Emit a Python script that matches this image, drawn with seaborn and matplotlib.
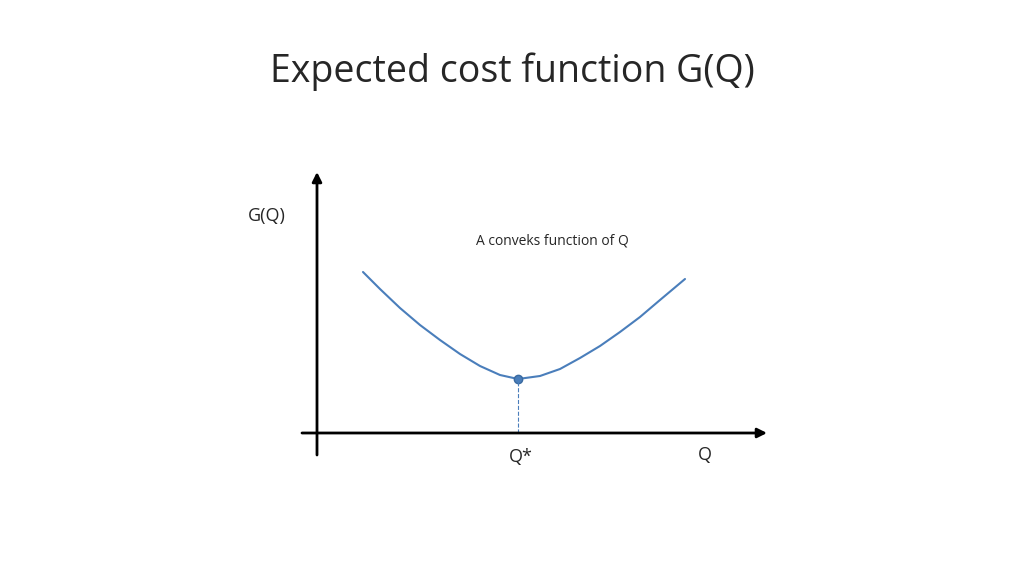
import matplotlib
matplotlib.use("Agg")
import matplotlib.pyplot as plt
import seaborn as sns
import pandas as pd

# curve (pixel offsets from the axis origin)
q_values = [46, 63, 83, 103, 123, 143, 163, 183, 201, 223, 243, 263, 283, 303, 323, 343, 368]
g_values = [161, 144, 125, 108, 93, 79, 67, 58, 54, 57, 64, 75, 87, 101, 116, 133, 154]
q_star = 201
g_star = 54

sns.set_theme(style="white")
plt.rcParams["font.family"] = ["Open Sans", "DejaVu Sans"]

fig = plt.figure(figsize=(10.24, 5.76), dpi=100)
ax = fig.add_axes([0, 0, 1, 1])
ax.set_xlim(-317, 1024 - 317)
ax.set_ylim(433 - 576, 433)
ax.axis("off")

df = pd.DataFrame({"Q": q_values, "G": g_values})
sns.lineplot(data=df, x="Q", y="G", ax=ax, color="#4a7ebb", linewidth=1.5, sort=False)
ax.plot([q_star], [g_star], "o", color="#4a7ebb", markersize=6, markeredgecolor="#3a6aa0")
ax.plot([q_star, q_star], [0, g_star], linestyle="--", color="#4a7ebb", linewidth=0.8)

arrow = dict(arrowstyle="-|>", color="black", lw=2, mutation_scale=14, shrinkA=0, shrinkB=0)
ax.annotate("", xy=(450, 0), xytext=(-15, 0), arrowprops=arrow)
ax.annotate("", xy=(0, 261), xytext=(0, -22), arrowprops=arrow)

ax.text(-69, 217, "G(Q)", fontsize=13, ha="left", va="center")
ax.text(159, 192, "A conveks function of Q", fontsize=10, ha="left", va="center")
ax.text(q_star + 3, -24, "Q*", fontsize=13, ha="center", va="center")
ax.text(388, -22, "Q", fontsize=13, ha="center", va="center")
fig.text(0.5, 0.875, "Expected cost function G(Q)", fontsize=27, ha="center", va="center")

fig.savefig("out.png", dpi=100, facecolor="white")
